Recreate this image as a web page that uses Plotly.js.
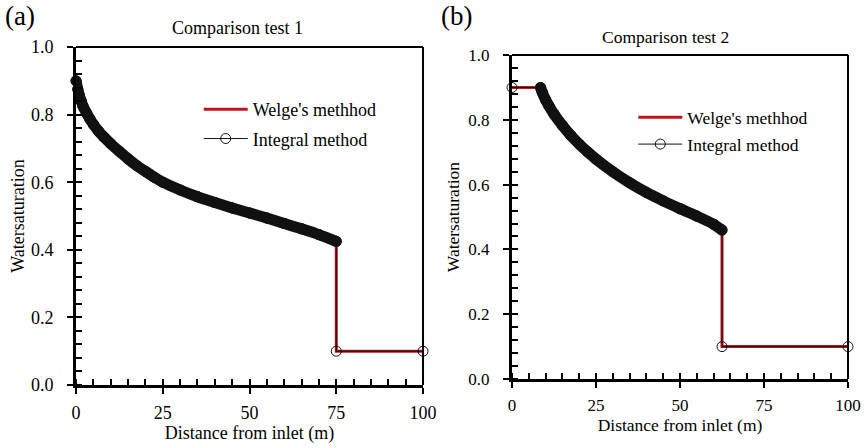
<!DOCTYPE html>
<html>
<head>
<meta charset="utf-8">
<script src="https://cdn.plot.ly/plotly-3.0.1.min.js"></script>
<style>html,body{margin:0;padding:0;background:#fff;}#chart{width:864px;height:448px;}</style>
</head>
<body>
<div id="chart"></div>
<script>
// Panel (a): Comparison test 1
const aDist = [0, 0.5, 1, 1.5, 2, 3, 4, 5, 6.5, 8, 10, 12.5, 15, 17.5, 20, 22.5, 25, 30, 35, 40, 45, 50, 55, 60, 65, 70, 75];
const aSat  = [0.9, 0.875, 0.855, 0.84, 0.825, 0.805, 0.787, 0.771, 0.751, 0.734, 0.714, 0.691, 0.669, 0.649, 0.632, 0.615, 0.6, 0.577, 0.557, 0.54, 0.524, 0.509, 0.494, 0.478, 0.462, 0.445, 0.425];
const aFrontDist = [75, 100];
const aFrontSat  = [0.1, 0.1];

// Panel (b): Comparison test 2
const bInletDist = [0];
const bInletSat  = [0.9];
const bDist = [8.5, 9, 10, 11, 12.5, 15, 17.5, 20, 22.5, 25, 30, 35, 40, 45, 50, 55, 60, 62.5];
const bSat  = [0.9, 0.885, 0.862, 0.843, 0.818, 0.783, 0.752, 0.725, 0.701, 0.679, 0.64, 0.606, 0.576, 0.55, 0.526, 0.503, 0.478, 0.46];
const bFrontDist = [62.5, 100];
const bFrontSat  = [0.1, 0.1];

const xTickStep = 25, xMinorStep = 5;
const yTickStep = 0.2, yMinorStep = 0.04;

const RED = '#C0141C';
const BLK = '#111111';
const FONT = "'Liberation Serif', 'Times New Roman', Tinos, serif";

function panel(xa, ya, legendName, inX, inY, cx, cy, fx, fy) {
  const wx = inX.concat(cx, fx), wy = inY.concat(cy, fy);
  return [
    {x: wx, y: wy, xaxis: xa, yaxis: ya, mode: 'lines', name: "Welge's methhod", legendgroup: legendName + 'w',
     line: {color: RED, width: 3}, cliponaxis: false, legend: legendName},
    {x: cx, y: cy, xaxis: xa, yaxis: ya, mode: 'lines+markers', showlegend: false, hoverinfo: 'skip',
     line: {color: BLK, width: 11, shape: 'spline', smoothing: 0.6}, marker: {color: BLK, size: 11}, cliponaxis: false, legend: legendName},
    {x: wx, y: wy, xaxis: xa, yaxis: ya, mode: 'lines+markers', name: 'Integral method', legendgroup: legendName + 'i',
     line: {color: BLK, width: 1}, marker: {symbol: 'circle-open', color: BLK, size: 10, line: {width: 1}},
     cliponaxis: false, legend: legendName}
  ];
}

const data = [].concat(
  panel('x', 'y', 'legend', [], [], aDist, aSat, aFrontDist, aFrontSat),
  panel('x2', 'y2', 'legend2', bInletDist, bInletSat, bDist, bSat, bFrontDist, bFrontSat)
);

function xaxis(dom, anchor, fs, tfs, so) {
  return {domain: dom, anchor: anchor, range: [0, 100], tickmode: 'linear', tick0: 0, dtick: xTickStep,
    showgrid: false, zeroline: false,
    showline: true, linewidth: 3, linecolor: 'black', ticks: 'outside', ticklen: 6, tickwidth: 2, tickcolor: 'black',
    minor: {tickmode: 'linear', tick0: 0, dtick: xMinorStep, ticks: 'inside', ticklen: 6, tickwidth: 2, tickcolor: 'black', showgrid: false},
    tickfont: {family: FONT, size: fs, color: 'black'}, ticklabelstandoff: 3, automargin: false,
    title: {text: 'Distance from inlet (m)', font: {family: FONT, size: tfs, color: 'black'}, standoff: so}};
}
function yaxis(dom, anchor, fs, tfs, so) {
  return {domain: dom, anchor: anchor, range: [0, 1], tickmode: 'linear', tick0: 0, dtick: yTickStep, tickformat: '.1f',
    showgrid: false, zeroline: false,
    showline: true, linewidth: 3, linecolor: 'black', ticks: 'outside', ticklen: 6, tickwidth: 2, tickcolor: 'black',
    minor: {tickmode: 'linear', tick0: 0, dtick: yMinorStep, ticks: 'inside', ticklen: 6, tickwidth: 2, tickcolor: 'black', showgrid: false},
    tickfont: {family: FONT, size: fs, color: 'black'}, ticklabelstandoff: 10, automargin: false,
    title: {text: 'Watersaturation', font: {family: FONT, size: tfs, color: 'black'}, standoff: so}};
}

const legendBase = {bgcolor: 'rgba(0,0,0,0)', borderwidth: 0, itemwidth: 44, xanchor: 'left', yanchor: 'top',
  traceorder: 'grouped'};

const layout = {
  width: 864, height: 448, margin: {l: 0, r: 0, t: 0, b: 0},
  paper_bgcolor: 'white', plot_bgcolor: 'white', showlegend: true,
  font: {family: FONT, color: 'black'},
  xaxis: xaxis([0.088, 0.4896], 'y', 18, 18, 4),
  yaxis: yaxis([0.1406, 0.8951], 'x', 18, 18, 2),
  xaxis2: xaxis([0.5926, 0.9815], 'y2', 17, 17.5, 5),
  yaxis2: yaxis([0.154, 0.877], 'x2', 17, 17.5, 5),
  legend: Object.assign({}, legendBase, {x: 0.23, y: 0.797, tracegroupgap: 3, font: {family: FONT, size: 18, color: 'black'}}),
  legend2: Object.assign({}, legendBase, {x: 0.733, y: 0.778, tracegroupgap: 1, font: {family: FONT, size: 17.5, color: 'black'}}),
  shapes: [
    {type: 'line', xref: 'x domain', yref: 'y domain', x0: 0, x1: 1, y0: 1, y1: 1, line: {color: 'black', width: 2}},
    {type: 'line', xref: 'x domain', yref: 'y domain', x0: 1, x1: 1, y0: 0, y1: 1, line: {color: 'black', width: 2}},
    {type: 'line', xref: 'x2 domain', yref: 'y2 domain', x0: 0, x1: 1, y0: 1, y1: 1, line: {color: 'black', width: 2}},
    {type: 'line', xref: 'x2 domain', yref: 'y2 domain', x0: 1, x1: 1, y0: 0, y1: 1, line: {color: 'black', width: 2}}
  ],
  annotations: [
    {text: '(a)', xref: 'paper', yref: 'paper', x: 20/864, y: 1 - 16/448, xanchor: 'center', yanchor: 'middle', showarrow: false, font: {family: FONT, size: 27, color: 'black'}},
    {text: '(b)', xref: 'paper', yref: 'paper', x: 456/864, y: 1 - 16/448, xanchor: 'center', yanchor: 'middle', showarrow: false, font: {family: FONT, size: 27, color: 'black'}},
    {text: 'Comparison test 1', xref: 'paper', yref: 'paper', x: 237/864, y: 1 - 28/448, xanchor: 'center', yanchor: 'middle', showarrow: false, font: {family: FONT, size: 18, color: 'black'}},
    {text: 'Comparison test 2', xref: 'paper', yref: 'paper', x: 665/864, y: 1 - 37/448, xanchor: 'center', yanchor: 'middle', showarrow: false, font: {family: FONT, size: 17.5, color: 'black'}}
  ]
};

Plotly.newPlot('chart', data, layout, {displayModeBar: false, staticPlot: true});
</script>
</body>
</html>
